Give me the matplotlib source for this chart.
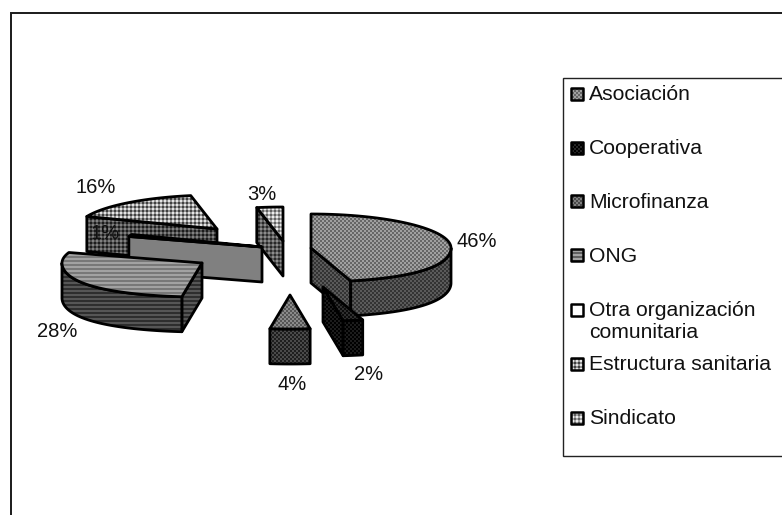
import numpy as np
import matplotlib
matplotlib.use('Agg')
import matplotlib.pyplot as plt
from matplotlib.patches import Polygon

plt.rcParams['font.family'] = ['Liberation Sans', 'DejaVu Sans']

# Shares per organisation type, clockwise from 12 o'clock
labels = ['Asociación', 'Cooperativa', 'Microfinanza', 'ONG',
          'Otra organización\ncomunitaria', 'Estructura sanitaria', 'Sindicato']
shares = [46, 2, 4, 28, 1, 16, 3]

W, H = 782, 515

# Pie geometry in pixels; the front of the rim is widened for perspective
rx, ry, depth = 140, 34, 35
front_widen = 0.15
# Apex of each exploded slice
apex_x = [311, 323, 290, 202, 262, 217, 283]
apex_y = [248, 287, 295, 263, 247, 229, 241]
draw_order = [5, 6, 4, 3, 0, 2, 1]

# Fill patterns: (kind, dark, light)
top_fill = [('checker', '#666666', '#a0a0a0'),
            ('checker', '#0c0c0c', '#303030'),
            ('checker', '#555555', '#8a8a8a'),
            ('stripes', '#787878', '#a2a2a2'),
            ('solid', '#ffffff', '#ffffff'),
            ('dots', '#404040', '#e4e4e4'),
            ('dots', '#606060', '#ececec')]
side_fill = [('checker', '#333333', '#5a5a5a'),
             ('checker', '#000000', '#1c1c1c'),
             ('checker', '#1e1e1e', '#4a4a4a'),
             ('stripes', '#2e2e2e', '#565656'),
             ('solid', '#808080', '#808080'),
             ('dots', '#1c1c1c', '#808080'),
             ('dots', '#282828', '#8c8c8c')]
legend_fill = [('checker', '#666666', '#a0a0a0'),
               ('checker', '#000000', '#262626'),
               ('checker', '#4a4a4a', '#808080'),
               ('stripes', '#606060', '#a2a2a2'),
               ('solid', '#ffffff', '#ffffff'),
               ('dots', '#404040', '#e4e4e4'),
               ('dots', '#606060', '#ececec')]

# Data label anchors (baseline) and legend rows
label_x = [477, 369, 292, 57, 105, 96, 262]
label_y = [247, 380, 390, 337, 239, 193, 200]
legend_y = [94, 148, 201, 255, 310, 364, 418]

fig = plt.figure(figsize=(W / 100, H / 100), dpi=100)
ax = fig.add_axes([0, 0, 1, 1])
ax.set_xlim(0, W)
ax.set_ylim(H, 0)
ax.axis('off')

yy, xx = np.mgrid[0:H, 0:W]
to_rgb = matplotlib.colors.to_rgb


def paint(poly, fill, z, lw=2.0):
    """Fill a polygon with a pixel pattern and outline it in black."""
    kind, dark, light = fill
    d, l = np.array(to_rgb(dark)), np.array(to_rgb(light))
    rgb = np.stack([d, l, (d + l) / 2])
    if kind == 'checker':
        mask = (xx // 2 + yy // 2) % 2
    elif kind == 'stripes':
        mask = (yy // 2) % 2
    elif kind == 'dots':
        # light and dark cells on a mid tone
        mask = np.full_like(xx, 2)
        mask[(xx % 4 < 2) & (yy % 4 < 2)] = 1
        mask[(xx % 4 >= 2) & (yy % 4 >= 2)] = 0
    else:
        mask = np.zeros_like(xx)
    img = ax.imshow(rgb[mask], extent=(0, W, H, 0), interpolation='nearest', zorder=z, aspect='auto')
    patch = Polygon(poly, closed=True, fc='none', ec='black', lw=lw, joinstyle='round', zorder=z + 0.5)
    ax.add_patch(patch)
    img.set_clip_path(patch)


def arc(cx, cy, a1, a2):
    t = np.radians(np.linspace(a1, a2, 60))
    widen = 1 + front_widen * np.clip(-np.cos(t), 0, None) ** 2
    return np.column_stack([cx + rx * widen * np.sin(t), cy - ry * np.cos(t)])


edges = np.concatenate([[0], np.cumsum(shares)]) * 3.6

for order, i in enumerate(draw_order):
    a1, a2 = edges[i], edges[i + 1]
    cx, cy = apex_x[i], apex_y[i]
    apex = np.array([[cx, cy]])
    drop = np.array([0, depth])
    z = 2 + order * 2

    # Radial faces turned towards the viewer
    for a, visible in ((a1, np.sin(np.radians(a1)) < -1e-6), (a2, np.sin(np.radians(a2)) > 1e-6)):
        if visible:
            rim = arc(cx, cy, a, a)[:1]
            paint(np.vstack([apex, rim, rim + drop, apex + drop]), side_fill[i], z)

    # Outer wall, front half of the rim only
    w1, w2 = max(a1, 90), min(a2, 270)
    if w2 > w1:
        rim = arc(cx, cy, w1, w2)
        paint(np.vstack([rim, (rim + drop)[::-1]]), side_fill[i], z + 0.6)

    paint(np.vstack([apex, arc(cx, cy, a1, a2)]), top_fill[i], z + 1.2)

for x, y, v in zip(label_x, label_y, shares):
    ax.text(x, y, f'{v}%', ha='center', va='baseline', fontsize=14.5, color='#111111', zorder=40)

# Chart border, open on the right and at the bottom
ax.plot([11, 11, W], [H, 13, 13], color='#1a1a1a', lw=1.4, zorder=1, solid_joinstyle='miter')

# Legend box runs off the right edge
ax.plot([W, 563, 563, W], [78, 78, 455.5, 455.5], color='#222222', lw=1.0, zorder=1, solid_joinstyle='miter')

for name, y, fill in zip(labels, legend_y, legend_fill):
    paint([(570.5, y - 6), (582.5, y - 6), (582.5, y + 6), (570.5, y + 6)], fill, 50, lw=1.8)
    for k, line in enumerate(name.split('\n')):
        ax.text(589, y + 6.5 + 22 * k, line, ha='left', va='baseline', fontsize=15.2, color='#111111', zorder=52)

fig.savefig('out.png', dpi=100, facecolor='white')
